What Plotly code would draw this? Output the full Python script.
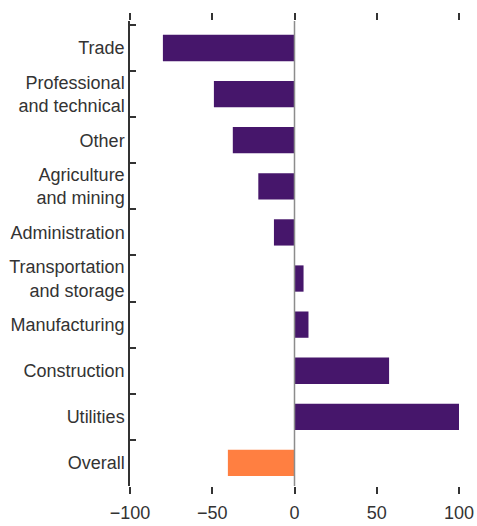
import plotly.graph_objects as go

categories = ['Trade', 'Professional<br>and technical', 'Other',
              'Agriculture<br>and mining', 'Administration',
              'Transportation<br>and storage', 'Manufacturing',
              'Construction', 'Utilities', 'Overall']
values = [-80, -49, -37.5, -22, -12.5, 5.5, 8.5, 57.5, 100, -40.5]
bar_colors = ['#46166b'] * 9 + ['#ff7f41']
x_ticks = [-100, -50, 0, 50, 100]
x_tick_text = ['\u2212100', '\u221250', '0', '50', '100']

font_family = 'Liberation Sans, Arial, sans-serif'
axis_color = '#333333'

fig = go.Figure()
fig.add_trace(go.Bar(y=categories, x=values, orientation='h',
                     marker=dict(color=bar_colors, line=dict(width=0)),
                     width=0.57, hoverinfo='x+y'))
# invisible trace so the top axis gets drawn
fig.add_trace(go.Scatter(x=[-100, 100], y=[categories[0], categories[0]],
                         xaxis='x2', mode='markers', marker=dict(opacity=0),
                         hoverinfo='skip', showlegend=False))

fig.update_layout(
    width=477, height=526,
    margin=dict(l=129.5, r=18, t=21, b=40),
    plot_bgcolor='white', paper_bgcolor='white',
    showlegend=False,
    font=dict(family=font_family, size=18, color=axis_color),
    xaxis=dict(range=[-100, 100], tickvals=x_ticks, ticktext=x_tick_text,
               ticks='outside', ticklen=7, tickwidth=1.5, tickcolor=axis_color,
               showline=False, showgrid=False, zeroline=False,
               automargin=False, ticklabelstandoff=3, tickfont=dict(size=18)),
    xaxis2=dict(range=[-100, 100], tickvals=x_ticks, overlaying='x', side='top',
                ticks='outside', ticklen=7, tickwidth=1.5, tickcolor=axis_color,
                showticklabels=False, showline=False, showgrid=False,
                zeroline=False, automargin=False),
    yaxis=dict(categoryorder='array', categoryarray=categories,
               autorange='reversed', showline=True, linecolor=axis_color,
               linewidth=1.5, ticks='inside', tickson='boundaries', ticklen=6,
               tickwidth=1.5, tickcolor=axis_color, showgrid=False,
               automargin=False, ticklabelstandoff=0, tickfont=dict(size=18)),
)

fig.add_shape(type='line', xref='x', yref='paper', x0=0, x1=0, y0=0, y1=1,
              line=dict(color='#8c8c8c', width=1.5), layer='above')

# drop the default page margin so the figure fills the window exactly
fig.write_html('out.html', config={'displayModeBar': False},
               post_script="document.body.style.margin='0';"
                           "document.body.style.overflow='hidden';")
